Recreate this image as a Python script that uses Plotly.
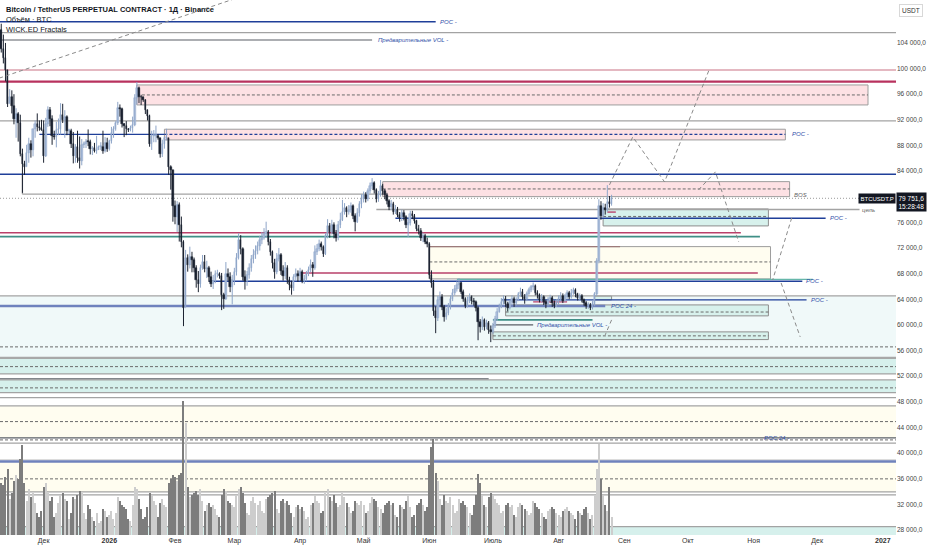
import pandas as pd
import plotly.graph_objects as go

# Daily BTCUSDT.P candles, prices in thousands of USDT, 2025-11-10 .. 2026-08-26
FIRST_DAY = "2025-11-10"
FIRST_OPEN = 104.7

CLOSE = [
    # Nov
    106.0, 103.0, 101.6, 99.7, 94.5, 95.5, 94.2, 92.2, 92.9, 91.5,
    86.6, 85.1, 84.7, 86.8, 88.3, 87.3, 90.5, 91.3, 90.9, 90.8, 90.4,
    # Dec
    86.3, 91.3, 93.5, 92.1, 89.4, 89.3, 90.4, 90.6, 92.7, 92.0,
    92.5, 90.3, 90.3, 88.2, 86.4, 87.8, 86.1, 85.5, 88.1, 88.3,
    88.6, 88.5, 87.4, 87.6, 87.2, 87.3, 87.8, 87.8, 87.1, 88.4, 87.5,
    # Jan
    88.7, 89.9, 90.6, 91.5, 93.9, 93.7, 91.3, 91.0, 90.5, 90.4,
    90.8, 91.2, 95.4, 97.0, 95.6, 95.5, 95.1, 93.6, 92.6, 88.3,
    89.5, 89.5, 89.5, 89.2, 86.6, 88.3, 89.2, 89.2, 84.6, 84.1, 78.6,
    # Feb
    76.9, 78.7, 75.6, 73.0, 62.7, 70.5, 69.3, 70.6, 70.1, 68.8,
    67.0, 66.3, 68.9, 69.8, 68.7, 68.8, 67.5, 66.4, 66.9, 67.9,
    68.0, 67.6, 64.6, 64.0, 67.9, 67.5, 65.9, 67.0,
    # Mar
    68.3, 70.5, 73.2, 71.8, 67.4, 66.8, 67.8, 68.9, 70.2, 70.9,
    71.6, 72.3, 73.2, 73.6, 74.2, 74.5, 73.0, 71.4, 69.6, 68.2,
    70.3, 70.9, 68.4, 67.6, 68.9, 67.0, 66.2, 65.8, 67.4, 68.0, 67.6,
    # Apr
    68.3, 66.9, 67.2, 67.9, 68.6, 69.4, 68.9, 71.3, 71.9, 72.6,
    72.2, 71.0, 73.8, 75.4, 74.5, 75.6, 74.2, 73.6, 75.6, 76.4,
    77.6, 78.3, 77.6, 77.9, 78.5, 77.0, 76.1, 77.5, 78.8, 79.6,
    # May
    80.2, 79.6, 80.9, 81.6, 82.1, 81.0, 79.6, 80.3, 81.7, 80.9,
    80.2, 79.3, 78.4, 78.9, 77.6, 78.0, 77.2, 76.6, 77.4, 76.8,
    75.6, 75.9, 77.3, 77.0, 76.2, 75.0, 74.6, 73.5, 73.9, 73.0, 72.6,
    # Jun
    67.8, 66.5, 62.2, 61.0, 63.9, 64.4, 62.8, 61.2, 61.8, 62.9,
    64.1, 65.0, 65.6, 66.2, 66.6, 65.2, 64.1, 63.0, 63.8, 64.3,
    63.7, 63.5, 62.6, 60.4, 59.6, 60.8, 59.7, 60.3, 59.2, 58.9,
    # Jul
    59.8, 60.9, 62.0, 62.8, 63.6, 64.1, 63.2, 62.7, 63.5, 64.0,
    63.4, 63.9, 64.8, 65.2, 64.3, 64.0, 64.8, 65.4, 65.9, 66.1,
    65.0, 64.7, 63.9, 64.4, 63.5, 63.2, 63.8, 64.2, 63.4, 63.0, 63.6,
    # Aug
    64.0, 64.5, 63.8, 64.3, 64.9, 64.4, 65.0, 65.4, 64.8, 64.2,
    64.5, 63.9, 63.4, 62.9, 63.1, 62.6, 63.2, 64.8, 69.9, 78.6,
    77.0, 78.3, 77.9, 79.1, 78.8, 79.7516,
]

HIGH = [
    106.6, 107.0, 105.3, 104.0, 99.8, 96.8, 96.6, 96.0, 93.8, 93.2,
    92.8, 87.5, 85.6, 88.1, 89.2, 88.8, 90.6, 91.9, 93.0, 91.9, 92.0,
    91.9, 92.3, 94.1, 94.0, 92.7, 90.3, 91.7, 92.2, 94.6, 94.5,
    93.5, 92.7, 90.6, 90.6, 90.1, 88.2, 90.3, 89.4, 89.0, 88.6,
    89.0, 90.5, 88.9, 87.9, 88.4, 89.5, 88.0, 88.5, 90.3, 89.3, 89.2,
    88.9, 90.9, 91.0, 91.8, 94.8, 94.4, 93.9, 91.5, 91.8, 90.7,
    91.1, 92.5, 96.0, 97.9, 97.2, 95.9, 95.6, 95.2, 93.6, 92.8,
    90.3, 90.4, 91.1, 89.8, 89.2, 88.9, 89.4, 90.6, 89.2, 84.9, 84.1,
    79.4, 79.3, 79.1, 76.9, 73.2, 71.7, 71.0, 72.2, 71.4, 70.5,
    69.3, 68.4, 69.4, 70.9, 70.9, 70.0, 69.2, 68.3, 67.8, 68.5,
    68.6, 68.2, 68.1, 65.0, 69.8, 68.8, 68.2, 67.8,
    68.9, 71.2, 74.3, 74.0, 72.1, 68.5, 68.4, 69.6, 70.9, 71.8,
    72.4, 73.0, 73.9, 74.5, 75.1, 76.1, 74.8, 73.4, 71.6, 70.3,
    71.2, 72.0, 71.2, 69.3, 69.8, 69.3, 67.5, 66.9, 67.9, 68.8, 68.5,
    68.9, 68.6, 67.8, 68.4, 69.1, 70.2, 69.8, 72.4, 72.6, 73.3,
    73.0, 72.4, 74.3, 76.5, 75.9, 76.4, 76.0, 74.8, 76.2, 77.5,
    79.5, 79.0, 78.5, 78.7, 79.1, 78.8, 77.4, 78.2, 79.3, 80.4,
    80.8, 80.7, 81.3, 82.2, 82.9, 82.4, 81.3, 80.9, 82.6, 82.0,
    81.2, 80.6, 79.6, 79.5, 79.2, 78.7, 78.4, 77.6, 78.0, 77.9,
    77.1, 76.6, 77.8, 77.8, 77.3, 76.4, 75.6, 75.1, 74.4, 74.2, 73.6,
    72.9, 68.5, 67.0, 62.9, 64.5, 65.2, 64.8, 63.1, 62.6, 63.4,
    64.6, 65.6, 66.2, 66.8, 67.3, 66.7, 65.5, 64.3, 64.4, 64.9,
    64.6, 64.2, 63.8, 62.9, 60.9, 61.3, 61.0, 60.8, 60.6, 59.9,
    60.3, 61.4, 62.6, 63.3, 64.2, 64.6, 64.5, 63.6, 63.9, 64.6,
    64.4, 64.3, 65.1, 65.8, 65.6, 64.8, 65.2, 65.8, 66.2, 66.6,
    66.3, 65.4, 64.9, 64.8, 64.6, 63.9, 64.3, 64.7, 64.5, 63.8, 64.0,
    64.6, 65.1, 64.9, 64.8, 65.4, 65.3, 65.6, 65.8, 65.7, 65.0,
    64.9, 64.8, 64.1, 63.7, 63.5, 63.4, 63.7, 65.1, 70.4, 79.6,
    79.3, 79.0, 78.9, 81.8, 80.1, 80.3,
]

LOW = [
    104.3, 102.5, 100.8, 98.0, 94.0, 94.6, 93.0, 91.3, 89.2, 88.6,
    86.3, 80.6, 83.4, 84.7, 85.3, 86.1, 86.3, 89.2, 90.2, 90.3, 90.3,
    85.3, 86.2, 90.9, 91.0, 88.1, 88.9, 87.7, 89.6, 89.7, 91.5,
    89.2, 89.6, 89.8, 87.6, 85.2, 85.3, 85.3, 84.4, 84.9, 87.6,
    87.6, 87.9, 86.6, 86.5, 86.9, 86.7, 87.3, 87.3, 86.7, 86.9, 87.0,
    87.2, 88.3, 89.2, 90.3, 91.2, 92.5, 90.8, 89.3, 89.6, 90.1,
    90.2, 90.0, 91.0, 94.4, 94.6, 94.3, 94.8, 92.9, 91.9, 87.8,
    87.3, 88.5, 88.5, 88.9, 86.1, 86.2, 87.5, 88.8, 83.4, 81.1, 76.1,
    75.7, 74.5, 73.0, 72.1, 59.8, 62.8, 68.3, 68.8, 68.2, 68.2,
    65.8, 65.1, 65.8, 68.6, 68.2, 67.3, 66.7, 65.9, 65.6, 66.5,
    67.4, 67.2, 62.3, 62.5, 63.9, 66.9, 65.1, 63.2,
    66.2, 67.7, 70.2, 71.0, 66.9, 65.5, 66.1, 67.2, 68.3, 69.6,
    70.3, 71.0, 71.6, 72.6, 73.3, 73.6, 72.4, 70.8, 68.8, 67.2,
    67.9, 69.9, 67.8, 66.9, 67.1, 66.4, 65.4, 64.7, 65.3, 66.9, 66.7,
    67.0, 66.5, 66.4, 66.8, 67.6, 68.2, 67.5, 68.6, 70.9, 71.5,
    71.6, 70.6, 70.9, 73.5, 73.6, 74.1, 73.5, 73.0, 73.2, 75.1,
    76.2, 77.2, 76.8, 77.2, 77.5, 76.5, 74.6, 75.9, 76.9, 78.2,
    79.1, 79.1, 79.3, 80.5, 81.2, 80.5, 79.1, 79.2, 80.0, 80.3,
    79.6, 78.8, 77.9, 77.9, 77.2, 77.3, 76.8, 76.1, 76.2, 76.3,
    75.1, 73.7, 75.5, 76.5, 75.8, 74.6, 74.1, 73.1, 72.9, 72.6, 72.1,
    67.2, 65.8, 61.4, 58.7, 60.6, 63.1, 62.3, 60.5, 60.8, 61.5,
    62.4, 63.7, 64.6, 65.2, 65.6, 64.8, 63.6, 62.6, 62.7, 63.4,
    63.2, 63.0, 62.1, 57.6, 58.8, 59.2, 59.1, 59.3, 58.6, 57.3,
    58.6, 59.5, 60.6, 61.9, 62.6, 63.2, 62.8, 62.1, 62.4, 63.1,
    62.8, 63.0, 63.7, 64.4, 63.9, 63.3, 63.7, 64.7, 65.1, 65.4,
    64.6, 64.1, 63.5, 63.5, 63.1, 62.6, 62.9, 63.6, 62.8, 62.6, 62.8,
    63.2, 63.6, 63.4, 63.6, 64.0, 64.0, 64.1, 64.7, 64.3, 63.8,
    63.9, 63.5, 63.0, 62.5, 62.5, 62.3, 62.4, 62.9, 64.5, 69.6,
    76.4, 76.7, 77.2, 77.6, 78.3, 78.6,
]

# Volume, thousands of BTC
VOLUME = [
    230, 260, 250, 290, 330, 180, 210, 270, 300, 280,
    380, 450, 260, 170, 230, 190, 210, 160, 110, 90, 120,
    240, 260, 210, 170, 190, 90, 110, 160, 200, 210,
    180, 170, 80, 110, 190, 180, 200, 220, 210, 110,
    80, 150, 130, 90, 70, 110, 60, 70, 130, 120, 90,
    100, 120, 80, 110, 190, 170, 150, 140, 130, 80,
    70, 150, 240, 230, 180, 130, 80, 90, 140, 210,
    200, 170, 150, 90, 160, 180, 150, 140, 260, 280, 300,
    290, 270, 300, 310, 670, 560, 240, 190, 200, 210,
    220, 200, 230, 170, 120, 150, 160, 140, 150, 130,
    100, 90, 200, 230, 220, 170, 160, 150,
    140, 200, 230, 240, 210, 160, 110, 100, 170, 190,
    160, 150, 170, 120, 110, 180, 190, 200, 210, 220,
    130, 110, 170, 180, 160, 170, 150, 110, 90, 140, 150,
    130, 140, 120, 80, 90, 150, 160, 200, 170, 160,
    110, 120, 210, 230, 190, 170, 200, 160, 140, 150,
    210, 190, 160, 140, 110, 120, 170, 160, 150, 170,
    150, 110, 120, 160, 190, 180, 170, 140, 130, 110,
    150, 160, 170, 150, 160, 100, 90, 150, 140, 130,
    170, 200, 140, 90, 100, 150, 160, 180, 150, 120, 140,
    350, 440, 480, 310, 270, 180, 150, 200, 170, 160,
    190, 150, 110, 120, 180, 160, 170, 150, 140, 110,
    100, 150, 200, 305, 260, 200, 150, 140, 190, 210,
    200, 180, 160, 150, 110, 120, 150, 160, 140, 150,
    100, 90, 140, 160, 150, 130, 120, 100, 110, 170,
    160, 140, 130, 110, 90, 80, 120, 130, 140, 130, 110,
    100, 90, 120, 130, 140, 120, 110, 100, 80, 120,
    110, 100, 130, 140, 110, 80, 100, 200, 330, 455,
    280, 200, 150, 120, 240, 90,
]

LAST_PRICE_TEXT = "79 751,6"
COUNTDOWN = "15:28:48"

X_START = "2025-11-10 10:00"
X_END = "2027-01-07 05:00"
Y_RANGE = [27.2, 110.7]
PRICE_TICKS = list(range(28, 105, 4))
TIME_TICKS = ["2025-12-01", "2026-01-01", "2026-02-01", "2026-03-01",
              "2026-04-01", "2026-05-01", "2026-06-01", "2026-07-01",
              "2026-08-01", "2026-09-01", "2026-10-01", "2026-11-01",
              "2026-12-01", "2027-01-01"]
TIME_LABELS = ["Дек", "<b>2026</b>", "Фев", "Мар", "Апр", "Май", "Июн",
               "Июль", "Авг", "Сен", "Окт", "Ноя", "Дек", "<b>2027</b>"]

# Horizontal levels: (price, from, to, kind); None = chart edge
LEVELS = [
    (107.3, None, "2026-06-04", "poc"),
    (105.6, None, None, "gray"),
    (104.46, None, "2026-05-05", "dark"),
    (99.78, None, None, "pink"),
    (97.96, None, None, "crimson_thick"),
    (91.82, None, None, "gray"),
    (89.72, "2025-11-29", "2026-01-27", "poc"),
    (83.51, None, None, "poc"),
    (80.39, "2025-11-21", "2026-05-10", "gray"),
    (78.0, "2026-05-07", "2026-12-21", "gray"),
    (76.64, "2026-05-16", "2026-12-05", "poc"),
    (74.38, None, "2026-10-26", "crimson"),
    (73.77, None, "2026-11-04", "teal"),
    (72.21, "2026-06-01", "2026-08-30", "brown"),
    (68.10, "2026-04-01", "2026-11-03", "crimson"),
    (67.09, "2026-06-14", "2026-11-29", "teal_light"),
    (66.81, "2026-02-17", "2026-11-24", "poc"),
    (64.52, None, None, "gray"),
    (63.89, "2026-07-05", "2026-11-26", "poc"),
    (62.95, None, "2026-08-23", "slate"),
    (63.58, "2026-07-20", "2026-08-05", "crimson"),
    (77.6, "2026-08-24", "2026-08-28", "crimson"),
    (60.77, "2026-07-01", "2026-08-17", "teal"),
    (59.99, "2026-07-01", "2026-07-20", "dark"),
    (54.84, None, None, "gray_thick"),
    (52.34, None, None, "gray"),
    (51.56, None, "2026-06-29", "dark"),
    (51.41, None, None, "gray"),
    (49.43, None, None, "gray"),
    (48.65, None, None, "gray"),
    (47.35, None, None, "gray"),
    (42.36, None, None, "dark"),
    (41.53, None, None, "gray"),
    (38.92, None, None, "gray_light"),
    (38.66, None, None, "slate"),
    (33.93, None, None, "gray"),
    (33.46, None, None, "gray"),
    (28.51, None, None, "gray"),
]

DASHED = [
    (95.88, "2026-01-14", "2026-12-25", "dash"),
    (89.72, "2026-01-27", "2026-11-16", "poc_dash"),
    (81.21, "2026-05-10", "2026-11-18", "dash"),
    (76.92, "2026-08-22", "2026-11-08", "dash"),
    (69.82, "2026-06-01", "2026-11-09", "dash"),
    (62.0, "2026-07-07", "2026-11-08", "dash"),
    (58.28, "2026-07-01", "2026-11-08", "dash"),
    (56.56, None, None, "dash"),
    (53.48, None, None, "dash"),
    (50.16, None, None, "dash"),
    (44.90, None, None, "dash"),
    (42.04, None, None, "dash"),
    (35.96, None, None, "dash"),
]

# Zones: (low, high, from, to, kind)
ZONES = [
    (54.84, 64.52, None, None, "pale"),
    (52.34, 54.84, None, None, "teal_band"),
    (49.43, 51.41, None, None, "teal_band"),
    (42.36, 47.35, None, None, "cream_band"),
    (33.93, 38.66, None, None, "cream_band"),
    (26.0, 28.51, None, None, "teal_band"),
    (94.32, 97.44, "2026-01-14", "2026-12-25", "pink"),
    (88.86, 90.53, "2026-01-27", "2026-11-16", "pink"),
    (80.01, 82.35, "2026-05-10", "2026-11-18", "pink"),
    (75.44, 78.09, "2026-08-22", "2026-11-08", "teal"),
    (67.17, 72.21, "2026-06-01", "2026-11-09", "cream"),
    (61.40, 63.11, "2026-07-07", "2026-11-08", "teal"),
    (57.70, 58.90, "2026-07-01", "2026-11-08", "teal"),
    (63.9, 64.5, "2026-08-18", "2026-08-26", "teal"),
]

# Projected paths (dashed gray): list of (date, price) points
PATHS = [
    [("2025-11-10", 98.5), ("2026-04-24", 116.9)],
    [("2026-08-25", 81.84), ("2026-09-05", 89.33), ("2026-09-20", 82.31),
     ("2026-10-11", 99.78)],
    [("2026-10-06", 81.06), ("2026-10-14", 83.87), ("2026-10-25", 72.94)],
    [("2026-11-19", 76.69), ("2026-11-10", 67.0)],
    [("2026-11-14", 66.54), ("2026-11-23", 58.12)],
    [("2026-08-26", 60.77), ("2026-08-23", 58.43)],
]

FRACTAL = ("2025-11-21", 83.4, 80.39)

LABELS = [
    ("POC -", "2026-06-05", 107.3, "poc"),
    ("Предварительные VOL -", "2026-05-07", 104.46, "poc"),
    ("POC -", "2026-11-18", 89.72, "poc"),
    ("BOS", "2026-11-19", 80.3, "gray"),
    ("POC -", "2026-12-06", 76.64, "poc"),
    ("POC -", "2026-11-25", 66.81, "poc"),
    ("POC -", "2026-11-27", 63.89, "poc"),
    ("POC 24 -", "2026-08-25", 62.95, "poc"),
    ("Предварительные VOL -", "2026-07-21", 59.99, "poc"),
    ("POC 24 -", "2026-11-05", 42.36, "poc"),
    ("цель", "2026-12-21", 78.0, "gray"),
]

LINE_STYLE = {
    "poc": dict(color="#1f3f99", width=1.4),
    "poc_dash": dict(color="#1f3f99", width=1.2, dash="3px,2px"),
    "gray": dict(color="#a3a3a3", width=1.3),
    "gray_thick": dict(color="#a8a8a8", width=2.2),
    "gray_light": dict(color="#c4c4c4", width=1),
    "dark": dict(color="#5a5f66", width=1.2),
    "pink": dict(color="#dba1ad", width=1.5),
    "crimson_thick": dict(color="#b8325e", width=2.2),
    "crimson": dict(color="#b9416a", width=1.4),
    "teal": dict(color="#3f8f86", width=1.8),
    "teal_light": dict(color="#66b7aa", width=1.3),
    "brown": dict(color="#9c7a7a", width=1.2),
    "slate": dict(color="#6f82bd", width=2.5),
    "dash": dict(color="#6b6b6b", width=1, dash="3px,2px"),
}
ZONE_STYLE = {
    "pale": dict(fill="#f0f9f9", border=None),
    "teal_band": dict(fill="#d6f0ec", border=None),
    "cream_band": dict(fill="#fffdf0", border=None),
    "pink": dict(fill="#fde1e4", border="#9d9d9d"),
    "teal": dict(fill="#d7f1ec", border="#8d8d8d"),
    "cream": dict(fill="#fffdf0", border="#9d9d9d"),
}
LABEL_COLOR = {"poc": "#3050a8", "gray": "#666666"}
FONT = "Liberation Sans, Arial, sans-serif"
DAY_MS = 86400000

UP_BODY, UP_EDGE = "#c3d3ea", "#8ea5c8"
DOWN_BODY, DOWN_EDGE = "#1b2230", "#1b2230"


def edge(value, default):
    return default if value is None else value


def add_candles(fig, dates, opens):
    # Draw candles by hand (wick lines + body bars) so the body width is
    # under control; plotly's candlestick bodies come out hair-thin here.
    for is_up, body, edge_color in ((True, UP_BODY, UP_EDGE),
                                    (False, DOWN_BODY, DOWN_EDGE)):
        idx = [i for i, (o, c) in enumerate(zip(opens, CLOSE))
               if (c >= o) == is_up]
        wx, wy = [], []
        for i in idx:
            wx += [dates[i], dates[i], None]
            wy += [LOW[i], HIGH[i], None]
        fig.add_trace(go.Scatter(
            x=wx, y=wy, mode="lines",
            line=dict(color=edge_color, width=1),
            hoverinfo="skip", showlegend=False,
        ))
        fig.add_trace(go.Bar(
            x=[dates[i] for i in idx],
            base=[min(opens[i], CLOSE[i]) for i in idx],
            y=[max(abs(CLOSE[i] - opens[i]), 0.12) for i in idx],
            width=DAY_MS * 0.72,
            marker=dict(color=body, line=dict(color=edge_color, width=0.5)),
            hoverinfo="skip", showlegend=False,
        ))


def main():
    dates = list(pd.date_range(FIRST_DAY, periods=len(CLOSE), freq="D"))
    opens = [FIRST_OPEN] + CLOSE[:-1]
    up = [c >= o for o, c in zip(opens, CLOSE)]

    fig = go.Figure()

    # Volume overlay at the bottom of the pane
    fig.add_trace(go.Bar(
        x=dates, y=VOLUME, yaxis="y2",
        marker_color=["#cdcdcd" if u else "#7d7d7d" for u in up],
        marker_line_width=0,
        width=DAY_MS * 0.55,
        hoverinfo="skip", showlegend=False,
    ))

    add_candles(fig, dates, opens)

    # Zones
    for lo, hi, x0, x1, kind in ZONES:
        st = ZONE_STYLE[kind]
        fig.add_shape(
            type="rect", xref="x", yref="y",
            x0=edge(x0, X_START), x1=edge(x1, X_END), y0=lo, y1=hi,
            fillcolor=st["fill"], layer="below",
            line=dict(color=st["border"] or st["fill"],
                      width=1 if st["border"] else 0),
        )

    for price, x0, x1, kind in LEVELS + DASHED:
        fig.add_shape(
            type="line", xref="x", yref="y",
            x0=edge(x0, X_START), x1=edge(x1, X_END), y0=price, y1=price,
            layer="below", line=LINE_STYLE[kind],
        )

    # Fractal marker stem
    fx, ftop, fbot = FRACTAL
    fig.add_shape(type="line", xref="x", yref="y", x0=fx, x1=fx,
                  y0=ftop, y1=fbot, layer="below", line=LINE_STYLE["gray"])

    # Last price line
    fig.add_shape(type="line", xref="x", yref="y", x0=X_START, x1=X_END,
                  y0=CLOSE[-1], y1=CLOSE[-1], layer="below",
                  line=dict(color="#9a9a9a", width=1, dash="1px,2px"))

    for path in PATHS:
        fig.add_trace(go.Scatter(
            x=[p[0] for p in path], y=[p[1] for p in path],
            mode="lines", line=dict(color="#8a8a8a", width=1, dash="4px,3px"),
            hoverinfo="skip", showlegend=False,
        ))

    for text, x, y, kind in LABELS:
        fig.add_annotation(
            x=x, y=y, xref="x", yref="y", text=f"<i>{text}</i>",
            showarrow=False, xanchor="left", yanchor="middle",
            font=dict(size=6, color=LABEL_COLOR[kind], family=FONT),
        )

    # Legend / header texts
    header = [
        "<b>Bitcoin / TetherUS PERPETUAL CONTRACT · 1Д · Binance</b>",
        "Объём · BTC",
        "WICK.ED Fractals",
    ]
    for i, text in enumerate(header):
        fig.add_annotation(
            x=0.004, y=1 - (3 + 10 * i) / 535, xref="paper", yref="paper",
            text=text, showarrow=False, xanchor="left", yanchor="top",
            font=dict(size=7.5, color="#131722", family=FONT),
        )

    fig.add_annotation(
        x=1.003, y=1 - 4 / 535, xref="paper", yref="paper", text="USDT",
        showarrow=False, xanchor="left", yanchor="top",
        font=dict(size=6.5, color="#333", family=FONT),
        bordercolor="#d8d8d8", borderwidth=1, borderpad=2, bgcolor="white",
    )
    fig.add_annotation(
        x=1.0, y=CLOSE[-1], xref="paper", yref="y", text="BTCUSDT.P",
        showarrow=False, xanchor="right", yanchor="middle",
        font=dict(size=6, color="white", family=FONT),
        bgcolor="#131722", borderpad=1.5,
    )
    fig.add_annotation(
        x=1.0, y=CLOSE[-1], xref="paper", yref="y",
        text=f"{LAST_PRICE_TEXT}<br>{COUNTDOWN}",
        showarrow=False, xanchor="left", yanchor="top", yshift=6,
        font=dict(size=6.5, color="white", family=FONT),
        bgcolor="#131722", borderpad=1.5, align="left",
    )

    fig.update_layout(
        width=932, height=550,
        margin=dict(l=0, r=36, t=0, b=15),
        paper_bgcolor="white", plot_bgcolor="white",
        barmode="overlay", bargap=0, showlegend=False,
        font=dict(family=FONT),
        xaxis=dict(
            type="date", range=[X_START, X_END],
            tickvals=TIME_TICKS, ticktext=TIME_LABELS,
            showgrid=False, zeroline=False, showline=False, ticks="",
            tickfont=dict(size=7, color="#333"),
        ),
        yaxis=dict(
            range=Y_RANGE, side="right",
            tickvals=PRICE_TICKS,
            ticktext=[f"{v} 000,0" for v in PRICE_TICKS],
            showgrid=False, zeroline=False, showline=False, ticks="",
            tickfont=dict(size=6.5, color="#444"),
        ),
        yaxis2=dict(overlaying="y", range=[0, 2675], visible=False),
    )

    fig.write_html("out.html", config={"displayModeBar": False},
                   post_script="document.body.style.margin='0';")


if __name__ == "__main__":
    main()
